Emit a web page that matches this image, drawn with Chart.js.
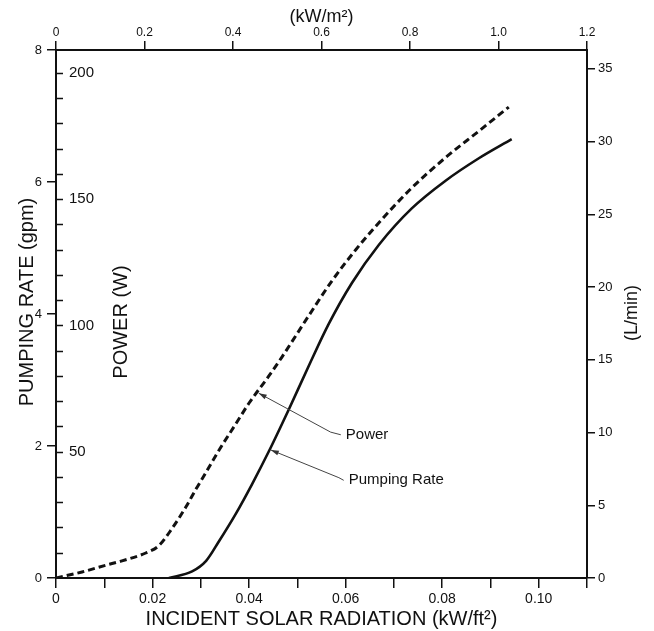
<!DOCTYPE html>
<html>
<head>
<meta charset="utf-8">
<script src="https://cdn.jsdelivr.net/npm/chart.js@4.4.1/dist/chart.umd.min.js"></script>
<style>
  html, body { margin: 0; padding: 0; background: #fff; }
  #wrap { width: 654px; height: 631px; }
</style>
</head>
<body>
<div id="wrap"><canvas id="chart" width="654" height="631"></canvas></div>
<script>
// ── Data ──
// Power curve (dashed): incident radiation kW/ft² vs watts
const powerX = [0, 0.0054, 0.0104, 0.0135, 0.0186, 0.0213, 0.0240, 0.0269, 0.0290, 0.0311, 0.0337, 0.0373,
                0.0400, 0.0441, 0.0468, 0.0524, 0.0571, 0.0621, 0.0675, 0.0737, 0.0807, 0.0876, 0.0938];
const powerW = [0, 2.4, 5.1, 6.7, 9.9, 12.8, 19.5, 28.1, 35.2, 41.9, 50.4, 61.2,
                69.3, 80.0, 87.5, 104.0, 117.5, 130.0, 142.0, 154.5, 166.5, 177.0, 186.5];
// Pumping rate curve (solid): incident radiation kW/ft² vs gpm
const pumpX   = [0.0234, 0.0282, 0.0311, 0.0337, 0.0373, 0.0406, 0.0441, 0.0482, 0.0524, 0.0565, 0.0613,
                 0.0669, 0.0737, 0.0807, 0.0876, 0.0944];
const pumpGpm = [0, 0.10, 0.26, 0.55, 0.98, 1.42, 1.92, 2.55, 3.22, 3.85, 4.47,
                 5.05, 5.60, 6.02, 6.36, 6.65];

// ── Axis ticks ──
const ftTicks    = [0, 0.01, 0.02, 0.03, 0.04, 0.05, 0.06, 0.07, 0.08, 0.09, 0.10, 0.11];
const ftLabelled = [0, 0.02, 0.04, 0.06, 0.08, 0.10];
const m2Ticks    = [0, 0.2, 0.4, 0.6, 0.8, 1.0, 1.2];
const gpmTicks   = [0, 2, 4, 6, 8];
const lpmTicks   = [0, 5, 10, 15, 20, 25, 30, 35];
const powerTicks = [50, 100, 150, 200];
const powerStep  = 10;

// ── Callouts ──
const callouts = [
  { text: "Power",        tip: [0.0420, 2.80], elbow: [0.0569, 2.21], end: [0.0590, 2.17] },
  { text: "Pumping Rate", tip: [0.0445, 1.94], elbow: [0.0586, 1.52], end: [0.0596, 1.48] }
];

const INK = "#111";
const FONT = "'Liberation Sans', Arial, Helvetica, sans-serif";

function setTicks(list) { return s => { s.ticks = list.map(v => ({ value: v })); }; }

// ── Extra drawing: inner power axis, vertical titles, callouts ──
const extras = {
  id: "extras",
  afterDraw(chart) {
    const { ctx, chartArea: a, scales: { x, y, yP } } = chart;
    ctx.save();
    ctx.strokeStyle = INK;
    ctx.fillStyle = INK;

    // power ticks point into the plot
    ctx.lineWidth = 1.5;
    ctx.beginPath();
    for (let w = powerStep; w <= 200; w += powerStep) {
      const py = Math.round(yP.getPixelForValue(w)) + 0.5;
      ctx.moveTo(a.left, py);
      ctx.lineTo(a.left + 7, py);
    }
    ctx.stroke();

    ctx.font = "15px " + FONT;
    ctx.textAlign = "left";
    ctx.textBaseline = "middle";
    powerTicks.forEach(w => ctx.fillText(String(w), a.left + 13, yP.getPixelForValue(w)));

    // rotated axis titles
    const vTitle = (txt, px, py, size) => {
      ctx.save();
      ctx.translate(px, py);
      ctx.rotate(-Math.PI / 2);
      ctx.font = size + "px " + FONT;
      ctx.textAlign = "center";
      ctx.textBaseline = "middle";
      ctx.fillText(txt, 0, 0);
      ctx.restore();
    };
    vTitle("PUMPING RATE (gpm)", 27, 302, 20);
    vTitle("POWER (W)", 121, 322, 20);
    vTitle("(L/min)", 632, 313, 18);

    // callouts with leader arrows
    ctx.strokeStyle = "#444";
    ctx.lineWidth = 1;
    ctx.font = "15px " + FONT;
    callouts.forEach(c => {
      const p = ([vx, vy]) => [x.getPixelForValue(vx), y.getPixelForValue(vy)];
      const [tx, ty] = p(c.tip), [ex, ey] = p(c.elbow), [nx, ny] = p(c.end);
      ctx.beginPath();
      ctx.moveTo(tx, ty); ctx.lineTo(ex, ey); ctx.lineTo(nx, ny);
      ctx.stroke();
      const ang = Math.atan2(ty - ey, tx - ex);
      ctx.fillStyle = "#333";
      ctx.beginPath();
      ctx.moveTo(tx, ty);
      ctx.lineTo(tx - 8 * Math.cos(ang) + 2.5 * Math.sin(ang), ty - 8 * Math.sin(ang) - 2.5 * Math.cos(ang));
      ctx.lineTo(tx - 8 * Math.cos(ang) - 2.5 * Math.sin(ang), ty - 8 * Math.sin(ang) + 2.5 * Math.cos(ang));
      ctx.closePath();
      ctx.fill();
      ctx.fillStyle = INK;
      ctx.textAlign = "left";
      ctx.textBaseline = "middle";
      ctx.fillText(c.text, nx + 5, ny);
    });
    ctx.restore();
  }
};

const tickFont = size => ({ size, family: FONT });

new Chart(document.getElementById("chart"), {
  type: "line",
  data: {
    datasets: [
      {
        label: "Power",
        data: powerX.map((v, i) => ({ x: v, y: powerW[i] })),
        yAxisID: "yP",
        borderColor: INK, borderWidth: 3, borderDash: [7, 4],
        pointRadius: 0, fill: false, cubicInterpolationMode: "monotone"
      },
      {
        label: "Pumping Rate",
        data: pumpX.map((v, i) => ({ x: v, y: pumpGpm[i] })),
        yAxisID: "y",
        borderColor: INK, borderWidth: 2.6,
        pointRadius: 0, fill: false, cubicInterpolationMode: "monotone"
      }
    ]
  },
  options: {
    responsive: false, animation: false, devicePixelRatio: 1,
    layout: { padding: 0 },
    plugins: { legend: { display: false }, tooltip: { enabled: false } },
    events: [],
    scales: {
      x: {
        type: "linear", position: "bottom", min: 0, max: 0.11,
        afterBuildTicks: setTicks(ftTicks),
        ticks: {
          callback: v => ftLabelled.some(t => Math.abs(t - v) < 1e-9) ? (v === 0 ? "0" : v.toFixed(2)) : "",
          font: tickFont(14), color: INK, padding: 3, maxRotation: 0, autoSkip: false
        },
        grid: { drawOnChartArea: false, tickLength: 10, color: INK, lineWidth: 1.5 },
        border: { color: INK, width: 2 },
        title: { display: true, text: "INCIDENT SOLAR RADIATION (kW/ft²)", color: INK,
                 font: { size: 20, family: FONT }, padding: { top: 0, bottom: 0 } },
        afterFit: s => { s.height = 53; }
      },
      x2: {
        type: "linear", position: "top", min: 0, max: 1.2,
        afterBuildTicks: setTicks(m2Ticks),
        ticks: {
          callback: v => v === 0 ? "0" : v.toFixed(1),
          font: tickFont(12), color: INK, padding: 1, maxRotation: 0, autoSkip: false
        },
        grid: { drawOnChartArea: false, tickLength: 9, color: INK, lineWidth: 1.5 },
        border: { color: INK, width: 2 },
        title: { display: true, text: "(kW/m²)", color: INK,
                 font: { size: 18, family: FONT }, padding: { top: 6, bottom: 0 } },
        afterFit: s => { s.height = 50; }
      },
      y: {
        type: "linear", position: "left", min: 0, max: 8,
        afterBuildTicks: setTicks(gpmTicks),
        ticks: { font: tickFont(13), color: INK, padding: 5 },
        grid: { drawOnChartArea: false, tickLength: 9, color: INK, lineWidth: 1.5 },
        border: { color: INK, width: 2 },
        afterFit: s => { s.width = 56; }
      },
      yP: {
        type: "linear", position: "left", min: 0, max: 209.1, display: false
      },
      yR: {
        type: "linear", position: "right", min: 0, max: 36.3,
        afterBuildTicks: setTicks(lpmTicks),
        ticks: { font: tickFont(13), color: INK, padding: 3 },
        grid: { drawOnChartArea: false, tickLength: 8, color: INK, lineWidth: 1.5 },
        border: { color: INK, width: 2 },
        afterFit: s => { s.width = 67; }
      }
    }
  },
  plugins: [extras]
});
</script>
</body>
</html>
